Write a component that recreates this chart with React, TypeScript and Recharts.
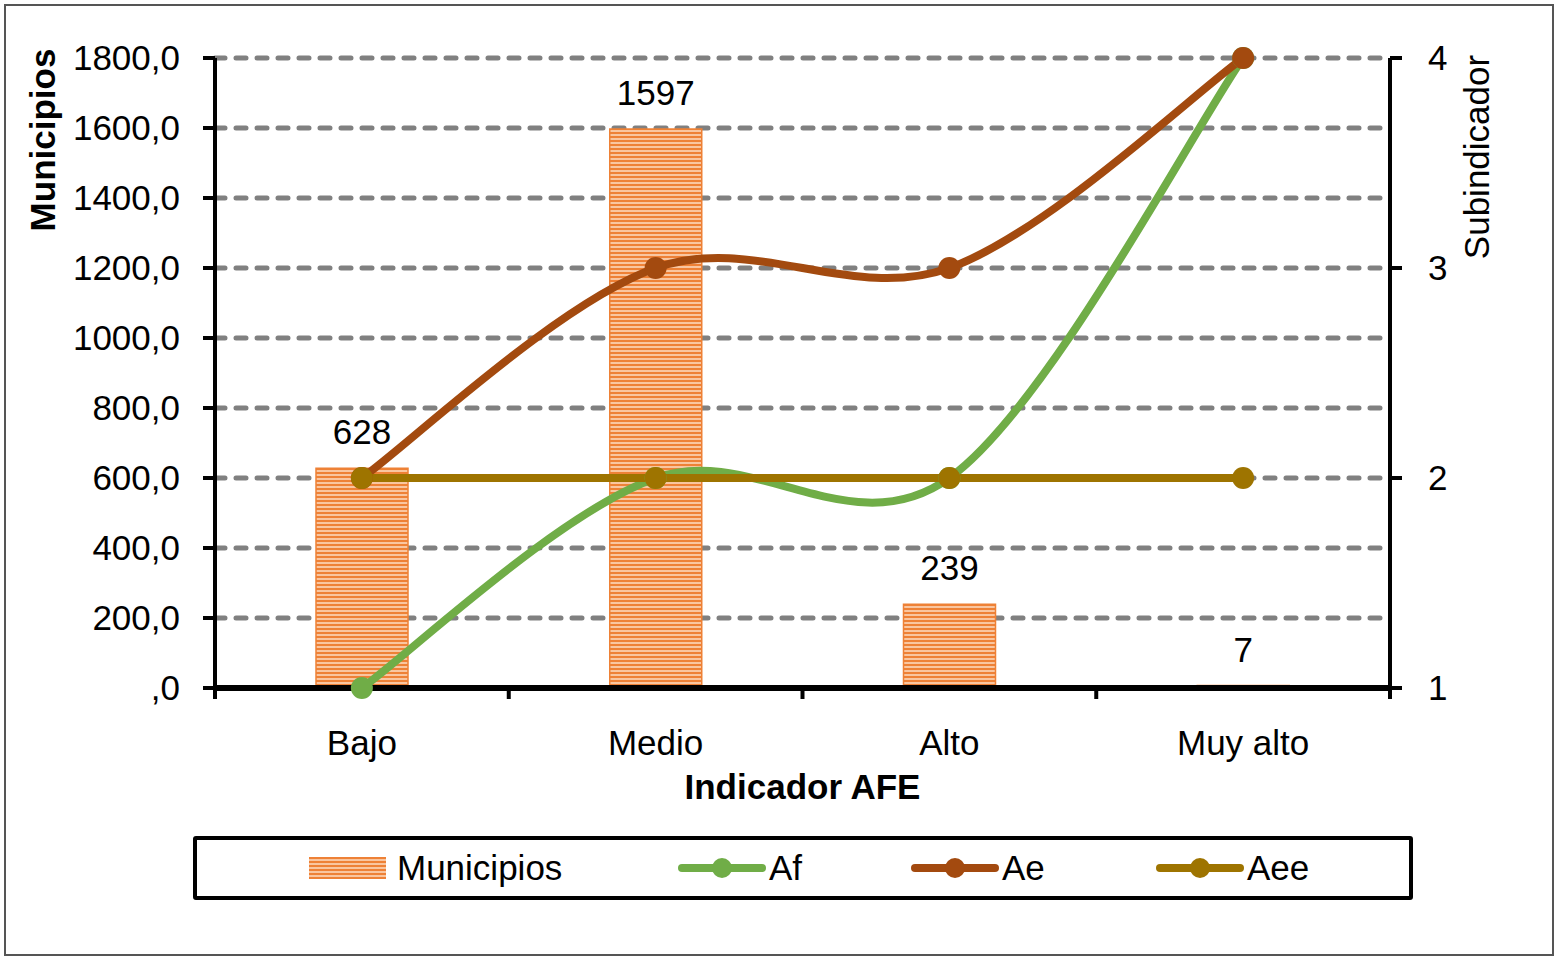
import { ComposedChart, Bar, Line, XAxis, YAxis, CartesianGrid, LabelList } from 'recharts';

const categories = ['Bajo', 'Medio', 'Alto', 'Muy alto'];
const municipios = [628, 1597, 239, 7];
const af = [1, 2, 2, 4];
const ae = [2, 3, 3, 4];
const aee = [2, 2, 2, 2];

const leftTicks = [0, 200, 400, 600, 800, 1000, 1200, 1400, 1600, 1800];
const rightTicks = [1, 2, 3, 4];

const lineSeries = [
  { key: 'af', name: 'Af', color: '#70AD47' },
  { key: 'ae', name: 'Ae', color: '#A34A0F' },
  { key: 'aee', name: 'Aee', color: '#9E7400' },
];

const FONT = '"Liberation Sans", Arial, sans-serif';
const FS = 35;

const data = categories.map((c, i) => ({
  name: c,
  municipios: municipios[i],
  af: af[i],
  ae: ae[i],
  aee: aee[i],
}));

// Excel-style smoothed line (Catmull-Rom through the points)
function excelSmooth(context: any) {
  let pts: [number, number][] = [];
  return {
    areaStart() {},
    areaEnd() {},
    lineStart() {
      pts = [];
    },
    point(x: number, y: number) {
      pts.push([+x, +y]);
    },
    lineEnd() {
      const n = pts.length;
      if (!n) return;
      context.moveTo(pts[0][0], pts[0][1]);
      for (let i = 0; i < n - 1; i++) {
        const p0 = pts[Math.max(i - 1, 0)];
        const p1 = pts[i];
        const p2 = pts[i + 1];
        const p3 = pts[Math.min(i + 2, n - 1)];
        context.bezierCurveTo(
          p1[0] + (p2[0] - p0[0]) / 6,
          p1[1] + (p2[1] - p0[1]) / 6,
          p2[0] - (p3[0] - p1[0]) / 6,
          p2[1] - (p3[1] - p1[1]) / 6,
          p2[0],
          p2[1]
        );
      }
    },
  };
}

const fmtLeft = (v: number) => (v === 0 ? ',0' : v.toFixed(1).replace('.', ','));

function CategoryTick(props: any) {
  const { x, y, payload, index } = props;
  const half = payload?.offset ?? 146.875;
  return (
    <g>
      <line x1={x - half} y1={y} x2={x - half} y2={y + 11} stroke="#000" strokeWidth={4} />
      {index === categories.length - 1 && (
        <line x1={x + half} y1={y} x2={x + half} y2={y + 11} stroke="#000" strokeWidth={4} />
      )}
      <text x={x} y={y + 67} textAnchor="middle" fontFamily={FONT} fontSize={FS} fill="#000">
        {payload.value}
      </text>
    </g>
  );
}

function Legend() {
  return (
    <div
      style={{
        position: 'absolute',
        left: 193,
        top: 836,
        width: 1220,
        height: 64,
        border: '4px solid #000',
        borderRadius: 3,
        boxSizing: 'border-box',
        fontFamily: FONT,
        fontSize: FS,
      }}
    >
      <div style={{ position: 'absolute', left: 112, top: 17, width: 77, height: 22 }}>
        <svg width={77} height={22} style={{ display: 'block' }}>
          <rect width={77} height={22} fill="url(#barPattern)" />
        </svg>
      </div>
      <div style={{ position: 'absolute', left: 200, top: 8, lineHeight: '40px' }}>Municipios</div>
      {lineSeries.map((s, i) => {
        const left = [481, 714, 959][i];
        return (
          <div key={s.key}>
            <svg width={88} height={30} style={{ position: 'absolute', left, top: 13 }}>
              <line x1={4} y1={15} x2={84} y2={15} stroke={s.color} strokeWidth={8} strokeLinecap="round" />
              <circle cx={44} cy={15} r={10} fill={s.color} />
            </svg>
            <div style={{ position: 'absolute', left: left + 91, top: 8, lineHeight: '40px' }}>{s.name}</div>
          </div>
        );
      })}
    </div>
  );
}

export default function App() {
  return (
    <div style={{ position: 'absolute', left: 0, top: 0, width: 1557, height: 960, background: '#fff' }}>
      <div
        style={{
          position: 'absolute',
          left: 4,
          top: 4,
          width: 1550,
          height: 952,
          border: '2px solid #555',
          boxSizing: 'border-box',
        }}
      />
      <ComposedChart
        width={1557}
        height={960}
        data={data}
        margin={{ top: 58, right: 0, bottom: 0, left: 0 }}
        style={{ position: 'absolute', left: 0, top: 0, fontFamily: FONT }}
      >
        <defs>
          <pattern id="barPattern" width={6} height={4} patternUnits="userSpaceOnUse">
            <rect width={6} height={4} fill="#F9C6A0" />
            <rect y={0} width={6} height={2} fill="#EE8136" />
          </pattern>
        </defs>
        <CartesianGrid
          horizontal
          vertical={false}
          stroke="#808080"
          strokeWidth={5}
          strokeLinecap="round"
          strokeDasharray="10 11"
          yAxisId="left"
        />
        <XAxis
          dataKey="name"
          xAxisId={0}
          height={272}
          axisLine={{ stroke: '#000', strokeWidth: 6 }}
          tickLine={false}
          tickSize={0}
          tickMargin={0}
          tick={<CategoryTick />}
          interval={0}
          label={(p: any) => {
            const vb = p.viewBox;
            return (
              <text
                x={vb.x + vb.width / 2}
                y={vb.y + 111}
                textAnchor="middle"
                fontFamily={FONT}
                fontSize={FS}
                fontWeight="bold"
                fill="#000"
              >
                Indicador AFE
              </text>
            );
          }}
        />
        <YAxis
          yAxisId="left"
          orientation="left"
          width={215}
          domain={[0, 1800]}
          ticks={leftTicks}
          interval={0}
          tickFormatter={fmtLeft}
          axisLine={{ stroke: '#000', strokeWidth: 4 }}
          tickLine={{ stroke: '#000', strokeWidth: 4 }}
          tickSize={12}
          tickMargin={23}
          tick={{ fill: '#000', fontSize: FS, fontFamily: FONT }}
          label={(p: any) => {
            const vb = p.viewBox;
            const cx = vb.x + 42;
            const cy = vb.y + 82;
            return (
              <text
                x={cx}
                y={cy}
                transform={`rotate(-90 ${cx} ${cy})`}
                textAnchor="middle"
                dominantBaseline="central"
                fontFamily={FONT}
                fontSize={FS}
                fontWeight="bold"
                fill="#000"
              >
                Municipios
              </text>
            );
          }}
        />
        <YAxis
          yAxisId="right"
          orientation="right"
          width={167}
          domain={[1, 4]}
          ticks={rightTicks}
          interval={0}
          axisLine={{ stroke: '#000', strokeWidth: 4 }}
          tickLine={{ stroke: '#000', strokeWidth: 4 }}
          tickSize={12}
          tickMargin={26}
          tick={{ fill: '#000', fontSize: FS, fontFamily: FONT }}
          label={(p: any) => {
            const vb = p.viewBox;
            const cx = vb.x + 86;
            const cy = vb.y + 99;
            return (
              <text
                x={cx}
                y={cy}
                transform={`rotate(-90 ${cx} ${cy})`}
                textAnchor="middle"
                dominantBaseline="central"
                fontFamily={FONT}
                fontSize={FS}
                fill="#000"
              >
                Subindicador
              </text>
            );
          }}
        />
        <Bar
          yAxisId="left"
          dataKey="municipios"
          name="Municipios"
          barSize={92}
          fill="url(#barPattern)"
          stroke="#EE8136"
          strokeWidth={1.5}
          isAnimationActive={false}
        >
          <LabelList
            dataKey="municipios"
            position="top"
            offset={24}
            fill="#000"
            fontSize={FS}
            fontFamily={FONT}
          />
        </Bar>
        {lineSeries.map((s) => (
          <Line
            key={s.key}
            yAxisId="right"
            dataKey={s.key}
            name={s.name}
            type={excelSmooth as any}
            stroke={s.color}
            strokeWidth={8}
            dot={{ r: 11, fill: s.color, stroke: 'none' }}
            activeDot={false}
            isAnimationActive={false}
          />
        ))}
      </ComposedChart>
      <Legend />
    </div>
  );
}
